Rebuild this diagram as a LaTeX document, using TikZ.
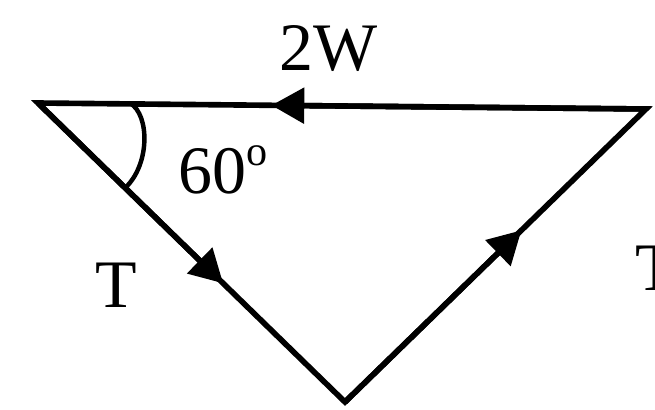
\documentclass[tikz,border=0pt]{standalone}
\usepackage{fontspec}
\setmainfont{Liberation Serif}
\usetikzlibrary{arrows.meta,calc}

\begin{document}
\begin{tikzpicture}[
  x={(0.03cm,0cm)}, y={(0cm,-0.03cm)},
  line join=miter,
  edge/.style={line width=4.8pt},
  force/.style={line width=4.8pt, -{Triangle[length=28pt,width=30pt]}},
  anglemark/.style={line width=3.8pt},
  lbl/.style={anchor=base, inner sep=0pt, font=\fontsize{58}{60}\selectfont},
]
\clip (0,0) rectangle (655,409);

% ── the three corners of the force triangle ───────────────────────────────
\coordinate (left)   at (38,103);
\coordinate (right)  at (646,109);
\coordinate (bottom) at (345,402);

\draw[edge] (left) -- (right) -- (bottom) -- cycle;

% Arrow heads part way along each side.
\draw[force] (right)  -- ($(right)!0.616!(left)$);
\draw[force] (left)   -- ($(left)!0.603!(bottom)$);
\draw[force] (bottom) -- ($(bottom)!0.586!(right)$);

% ── the angle mark at the left corner ─────────────────────────────────────
\coordinate (arcstart) at (130,103);
\coordinate (arcend)   at (125,188);
\draw[anglemark] (arcstart) .. controls (150,115) and (150,165) .. (arcend);

% ── labels ────────────────────────────────────────────────────────────────
\node[lbl] (weight) at (329,70)  {2W};
\node[lbl] (angle)  at (223,193) {60\raisebox{0.4em}{\fontsize{36}{36}\selectfont o}};
\node[lbl] (tleft)  at (116,307) {T};
\node[lbl] (tright) at (656,290) {T};

\end{tikzpicture}
\end{document}
